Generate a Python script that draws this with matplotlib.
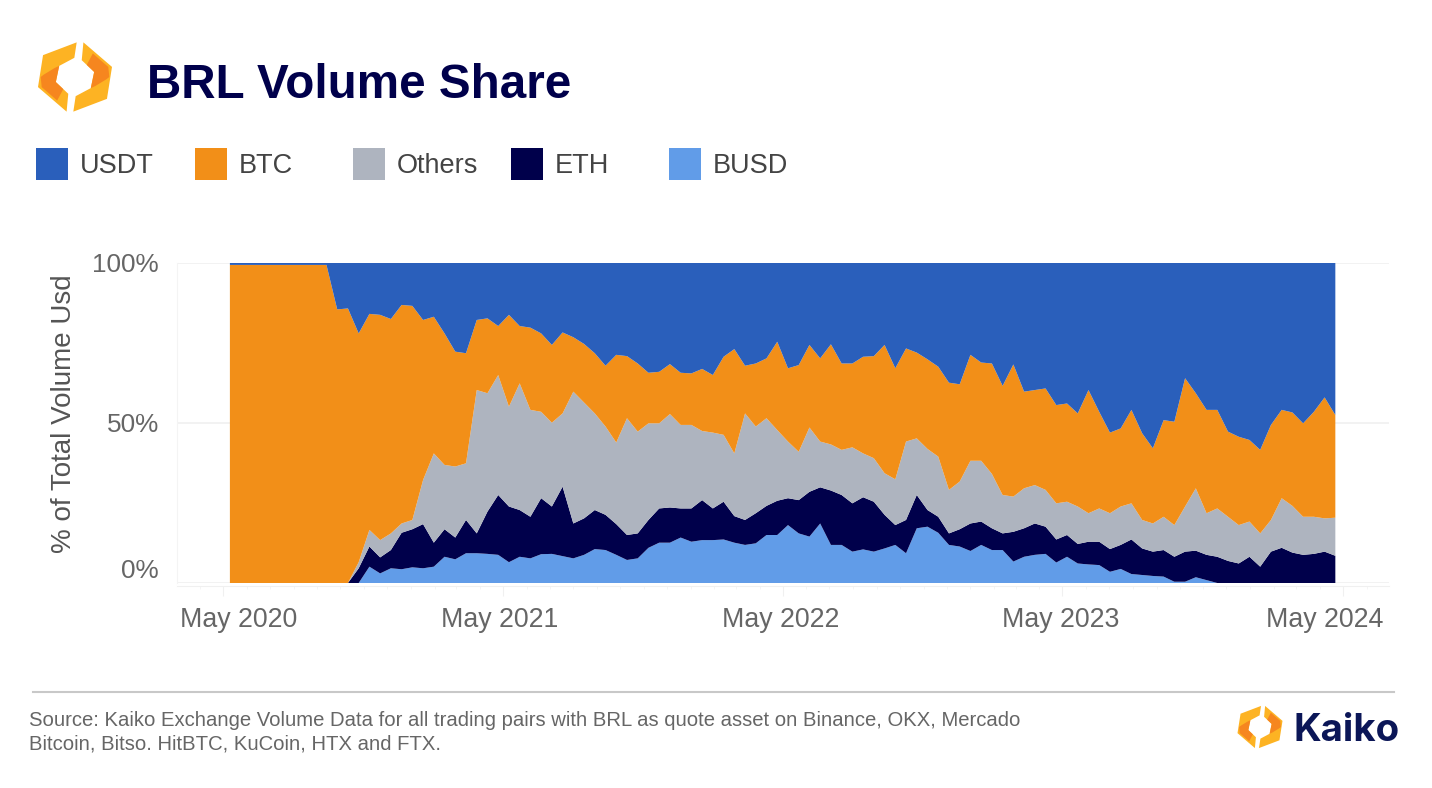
import numpy as np
import pandas as pd
import matplotlib
matplotlib.use('Agg')
import matplotlib.pyplot as plt
import matplotlib.dates as mdates
from matplotlib.patches import Polygon, Rectangle
from matplotlib.transforms import ScaledTranslation

plt.rcParams['font.family'] = ['Liberation Sans', 'DejaVu Sans']

# biweekly dates, first sample 10 May 2020
dates = pd.date_range('2020-05-10', periods=104, freq='14D')

# stacked levels, in % (top edge of each band)
busd_top = [0]*13 + [5.1, 3.0, 4.6, 4.3, 4.9, 4.6, 5.1, 8.2, 7.4, 9.3, 9.3, 9.1, 8.8, 6.5, 8.2, 7.7, 9.0, 9.1, 8.4,
    7.7, 8.8, 10.6, 10.3, 8.8, 7.2, 7.7, 11.0, 12.6, 12.6, 14.2, 12.9, 13.4, 13.4, 13.6, 12.6, 11.9, 12.4, 15.0,
    15.0, 18.1, 15.5, 14.5, 18.6, 11.9, 11.9, 9.8, 10.5, 9.8, 10.8, 11.9, 9.3, 17.1, 17.6, 15.7, 11.9, 11.4, 10.0,
    11.9, 10.3, 10.3, 6.7, 8.2, 8.8, 9.1, 6.4, 8.2, 6.1, 5.8, 5.6, 3.5, 4.4, 2.8, 2.5, 2.2, 2.0, 0.4, 0.4, 1.8,
    0.9] + [0]*12
eth_top = [0]*12 + [4.6, 11.4, 8.0, 10.3, 15.7, 16.8, 18.4, 12.6, 16.8, 14.2, 19.7, 15.5, 22.3, 27.5, 23.9, 22.8,
    20.7, 26.5, 23.9, 30.1, 18.6, 20.2, 22.8, 21.3, 18.4, 15.0, 15.5, 19.7, 23.3, 23.6, 23.3, 23.3, 25.9, 23.3,
    25.4, 20.9, 19.7, 21.8, 24.1, 25.7, 26.5, 25.9, 28.5, 29.9, 28.9, 27.5, 24.9, 26.8, 25.4, 21.3, 18.1, 19.7,
    27.5, 22.8, 20.7, 15.5, 16.8, 18.6, 19.2, 17.1, 15.5, 16.0, 17.1, 18.6, 17.6, 13.6, 15.0, 12.2, 12.9, 12.9,
    10.6, 11.9, 13.6, 10.8, 9.8, 10.3, 8.2, 9.8, 10.1, 8.8, 8.2, 6.9, 6.1, 8.2, 5.1, 9.8, 11.0, 9.5, 8.8, 9.1,
    9.8, 8.5]
others_top = [0]*12 + [6.5, 16.6, 13.4, 15.5, 18.6, 19.7, 32.2, 40.5, 36.9, 36.4, 37.4, 60.3, 59.3, 65.0, 55.1,
    62.4, 54.1, 53.5, 50.1, 53.0, 59.8, 56.4, 53.0, 48.9, 43.9, 51.5, 47.3, 49.9, 49.9, 52.8, 49.4, 49.4, 47.5,
    47.0, 46.3, 40.5, 53.0, 48.9, 51.5, 47.8, 44.2, 41.0, 48.6, 44.2, 43.3, 41.6, 42.4, 40.5, 39.0, 34.3, 32.4,
    44.2, 45.2, 41.9, 39.5, 29.1, 31.7, 38.2, 38.2, 34.1, 27.5, 27.0, 29.6, 30.6, 29.1, 24.9, 25.4, 23.9, 21.8,
    23.3, 21.8, 23.9, 24.9, 19.7, 18.6, 20.7, 18.1, 23.9, 29.6, 21.8, 23.3, 20.7, 18.1, 19.2, 15.5, 19.7, 26.5,
    24.1, 20.7, 20.7, 20.2, 20.4]
btc_top = [99.4]*10 + [85.5, 85.8, 78.0, 84.1, 83.8, 82.5, 86.9, 86.6, 82.2, 83.2, 78.0, 72.3, 71.8, 82.2, 82.7,
    80.3, 83.8, 80.3, 79.8, 78.0, 74.4, 78.3, 76.8, 74.7, 71.8, 67.9, 71.3, 70.9, 68.6, 65.7, 66.0, 68.4, 65.7,
    65.5, 66.9, 65.0, 70.7, 73.1, 67.9, 68.6, 70.2, 75.4, 67.1, 68.1, 74.4, 70.2, 74.6, 68.6, 68.6, 70.7, 70.9,
    74.4, 67.1, 73.3, 72.0, 69.9, 67.6, 62.6, 62.1, 71.3, 68.9, 68.6, 61.6, 68.3, 59.8, 60.3, 60.8, 55.6, 56.1,
    53.0, 60.3, 53.5, 47.0, 48.3, 54.1, 46.8, 42.1, 50.9, 50.4, 64.0, 59.3, 54.1, 54.1, 47.3, 45.7, 44.7, 41.6,
    49.4, 54.1, 53.3, 49.9, 53.5, 58.0, 52.5]

# shares per asset
levels = np.array([np.zeros(104), busd_top, eth_top, others_top, btc_top, np.full(104, 100.0)])
shares = np.diff(levels, axis=0)

names = ['USDT', 'BTC', 'Others', 'ETH', 'BUSD']
colors = ['#2A5FBB', '#F28F18', '#AEB4BF', '#00004B', '#619CE8']
legend_x = [36, 195, 353, 511, 669]

W, H = 1432, 788
NAVY = '#00004B'
fig = plt.figure(figsize=(W/100, H/100), dpi=100)

# chart area
ax = fig.add_axes([177/W, 1-583/H, (1389-177)/W, 320/H])
ax.stackplot(dates, shares, colors=colors[::-1], linewidth=0, zorder=3)
ax.set_ylim(0, 100)
ax.set_xlim(pd.Timestamp('2020-03-02'), pd.Timestamp('2024-06-30'))
ax.set_yticks([0, 50, 100])
ax.set_yticklabels(['0%', '50%', '100%'])
ax.grid(axis='y', color='#F0F0F0', lw=1.2, zorder=0)
for s in ['top', 'right']:
    ax.spines[s].set_visible(False)
ax.spines['left'].set_color('#F4F4F4')
ax.spines['bottom'].set_color('#F0F0F0')
ax.spines['bottom'].set_position(('outward', 2))

major = [pd.Timestamp(f'{y}-05-01') for y in range(2020, 2025)]
ax.set_xticks(major)
ax.set_xticklabels([d.strftime('%b %Y') for d in major])
ax.xaxis.set_minor_locator(mdates.MonthLocator())
ax.tick_params(axis='x', which='major', length=7, color='#F0F0F0', labelsize=19.3, labelcolor='#666666', pad=8)
ax.tick_params(axis='x', which='minor', length=2, color='#F4F4F4')
ax.tick_params(axis='y', length=0, labelsize=18.8, labelcolor='#666666', pad=13)
ax.set_ylabel('% of Total Volume Usd', fontsize=20, color='#555555', labelpad=0)
ax.yaxis.set_label_coords((77-177)/(1389-177), 0.53)

# end labels sit inside the plot in the original
ticks = ax.get_xticklabels()
for lab, dx in zip(ticks, [16, -3, -2, -2, -18]):
    lab.set_transform(lab.get_transform() + ScaledTranslation(dx/100, 0, fig.dpi_scale_trans))
ylabs = ax.get_yticklabels()
ylabs[0].set_transform(ylabs[0].get_transform() + ScaledTranslation(0, 14/100, fig.dpi_scale_trans))

# everything else placed on a pixel overlay
ov = fig.add_axes([0, 0, 1, 1], zorder=-1)
ov.set_xlim(0, W)
ov.set_ylim(H, 0)
ov.axis('off')

def logo(cx, cy, size):
    left = np.array([(40, 60), (140, 22), (133, 68), (88, 92), (78, 140), (115, 175), (110, 228), (25, 155)], float)
    inner = np.array([(42, 118), (75, 98), (88, 92), (78, 140), (100, 161), (82, 195), (36, 155), (33, 125)], float)
    for pts, col in [(left, '#FDB323'), (inner, '#F6861F')]:
        pts = (pts - (135, 125)) * size / 220
        ov.add_patch(Polygon(pts + (cx, cy), color=col, lw=0))
        ov.add_patch(Polygon(-pts + (cx, cy), color=col, lw=0))

logo(75, 77, 74)
ov.text(147, 85, 'BRL Volume Share', fontsize=34.3, fontweight='bold', color=NAVY, va='center', ha='left')

for name, col, x in zip(names, colors, legend_x):
    ov.add_patch(Rectangle((x, 148), 32, 32, color=col, lw=0))
    ov.text(x+44, 166, name, fontsize=19.5, color='#444444', va='center', ha='left')

ov.plot([33, 1394], [692, 692], color='#C8C8C8', lw=1.5)
ov.text(29, 721, 'Source: Kaiko Exchange Volume Data for all trading pairs with BRL as quote asset on Binance, OKX, Mercado',
        fontsize=14.6, color='#666666', va='center')
ov.text(29, 744, 'Bitcoin, Bitso. HitBTC, KuCoin, HTX and FTX.', fontsize=14.6, color='#666666', va='center')
logo(1260, 727, 45)
ov.text(1294, 731, 'Kaiko', fontsize=27.7, fontweight='bold', family='Inter', color='#0B1657', va='center', ha='left')

fig.savefig('out.png', dpi=100)
